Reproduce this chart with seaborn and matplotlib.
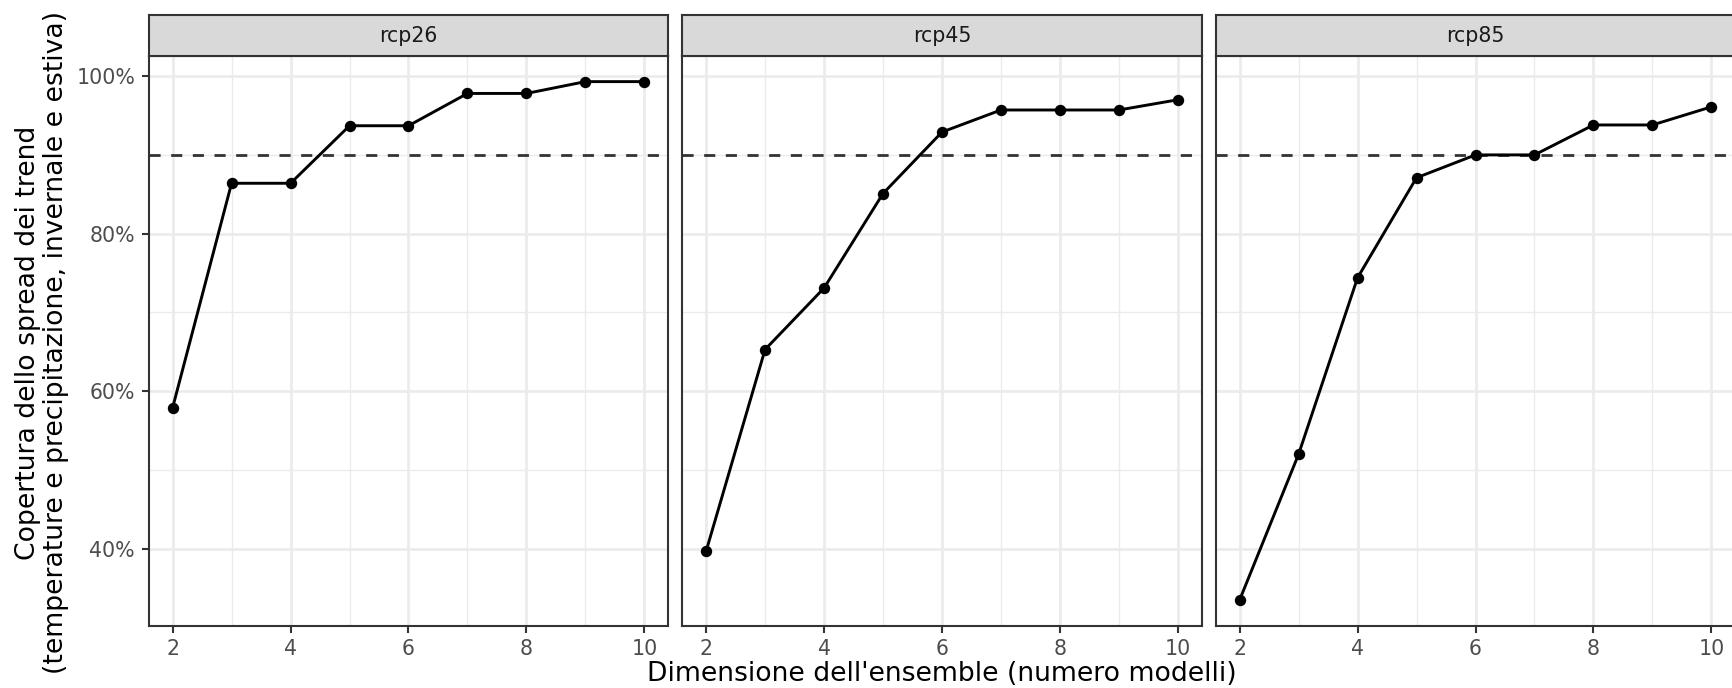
import matplotlib
matplotlib.use("Agg")
import matplotlib.pyplot as plt
import matplotlib.ticker as mticker
import numpy as np
import pandas as pd
import seaborn as sns

# ---------------- data ----------------
ensemble_size = [2, 3, 4, 5, 6, 7, 8, 9, 10]
rcp26 = [57.9, 86.4, 86.4, 93.7, 93.7, 97.8, 97.8, 99.3, 99.3]
rcp45 = [39.7, 65.3, 73.1, 85.1, 92.9, 95.7, 95.7, 95.7, 97.0]
rcp85 = [33.5, 52.0, 74.4, 87.1, 90.0, 90.0, 93.8, 93.8, 96.1]
scenarios = ["rcp26", "rcp45", "rcp85"]
threshold = 90
y_ticks = [40, 60, 80, 100]
y_minor = [50, 70, 90]
x_ticks = [2, 4, 6, 8, 10]
x_minor = [3, 5, 7, 9]
x_title = "Dimensione dell'ensemble (numero modelli)"
y_title = "Copertura dello spread dei trend\n(temperature e precipitazione, invernale e estiva)"

df = pd.DataFrame({
    "n": ensemble_size * 3,
    "coverage": rcp26 + rcp45 + rcp85,
    "scenario": np.repeat(scenarios, len(ensemble_size)),
})

# ---------------- style ----------------
plt.rcParams["font.family"] = ["DejaVu Sans"]
W, H = 1733, 688
DPI = 100
fig = plt.figure(figsize=(W / DPI, H / DPI), dpi=DPI)
fig.patch.set_facecolor("white")

grey20 = "#333333"
grey30 = "#4D4D4D"
grid_col = "#EBEBEB"
strip_col = "#D9D9D9"
tick_fs = 14.8
title_fs = 19.2

# ggplot-like expansion from data
ymin, ymax = df["coverage"].min(), df["coverage"].max()
yr = ymax - ymin
ylim = (ymin - 0.05 * yr, ymax + 0.05 * yr)
xr = max(ensemble_size) - min(ensemble_size)
xlim = (min(ensemble_size) - 0.05 * xr, max(ensemble_size) + 0.05 * xr)

panel_lefts = [149, 682.5, 1216]
panel_w = 519
panel_bottom = 626
panel_top = 55.7
strip_top = 15.3

for i, sc in enumerate(scenarios):
    left = panel_lefts[i] / W
    ax = fig.add_axes([left, (H - panel_bottom) / H, panel_w / W, (panel_bottom - panel_top) / H])
    sub = df[df["scenario"] == sc]
    ax.set_axisbelow(True)
    ax.set_facecolor("white")
    ax.axhline(threshold, color=grey20, lw=2.0, ls=(0, (4.0, 3.8)), zorder=2)
    sns.lineplot(data=sub, x="n", y="coverage", ax=ax, color="black", lw=2.1,
                 marker="o", markersize=8.2, markeredgewidth=0, zorder=3)
    ax.set_xlim(*xlim)
    ax.set_ylim(*ylim)
    ax.set_xticks(x_ticks)
    ax.set_xticks(x_minor, minor=True)
    ax.set_yticks(y_ticks)
    ax.set_yticks(y_minor, minor=True)
    ax.grid(which="major", color=grid_col, lw=1.9)
    ax.grid(which="minor", color=grid_col, lw=1.0)
    ax.tick_params(which="minor", length=0)
    ax.tick_params(which="major", length=5, width=1.5, color=grey20,
                   labelsize=tick_fs, labelcolor=grey30)
    ax.tick_params(axis="x", pad=4.3)
    ax.tick_params(axis="y", pad=5)
    ax.yaxis.set_major_formatter(mticker.FuncFormatter(lambda v, p: f"{v:.0f}%"))
    if i > 0:
        ax.tick_params(axis="y", which="both", left=False, labelleft=False)
    ax.set_xlabel("")
    ax.set_ylabel("")
    for s in ax.spines.values():
        s.set_color(grey20)
        s.set_linewidth(1.5)
    if ax.get_legend() is not None:
        ax.get_legend().remove()

    # strip
    sax = fig.add_axes([left, (H - panel_top) / H, panel_w / W, (panel_top - strip_top) / H])
    sax.set_facecolor(strip_col)
    sax.set_xticks([])
    sax.set_yticks([])
    for s in sax.spines.values():
        s.set_color(grey20)
        s.set_linewidth(1.5)
    sax.text(0.5, 0.5, sc, ha="center", va="center", fontsize=tick_fs,
             color="#1A1A1A", transform=sax.transAxes)

# axis titles
fig.text((149 + 1735) / 2 / W, 7 / H, x_title, ha="center", va="baseline",
         fontsize=title_fs, color="black")
fig.text(42 / W, (H - 343) / H, y_title, ha="center", va="center", rotation=90,
         fontsize=title_fs, color="black", multialignment="center", linespacing=1.12)

fig.savefig("out.png", dpi=DPI, facecolor="white")
